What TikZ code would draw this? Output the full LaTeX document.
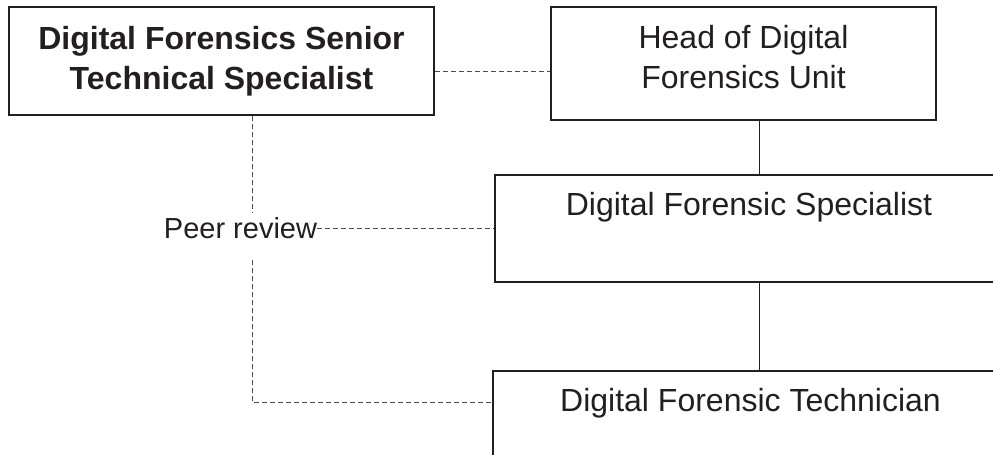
\documentclass[tikz,border=0pt]{standalone}
\usepackage{fontspec}
\setmainfont{Liberation Sans}
\definecolor{inkgray}{HTML}{231F20}
\definecolor{dashgray}{HTML}{4D4D4D}
\tikzset{
  unitbox/.style={draw=inkgray, line width=1.5pt, inner sep=0pt},
  dashline/.style={draw=dashgray, line width=1pt, dash pattern=on 5pt off 3pt},
  solidline/.style={draw=inkgray, line width=1pt},
}

\begin{document}
\begin{tikzpicture}[x=1pt,y=-1pt,font=\fontsize{32}{40}\selectfont,text=inkgray]
            \useasboundingbox (0,0) rectangle (993,455);
            \clip (0,0) rectangle (993,455);

            % Draw the boxes
            \node[unitbox, minimum width=425pt, minimum height=108pt, align=center, font=\bfseries\fontsize{32}{40}\selectfont] (senior) at (221.5,61) {Digital Forensics Senior\\Technical Specialist};
            \node[unitbox, minimum width=385pt, minimum height=113pt, label={[align=center,yshift=6pt]center:Head of Digital\\Forensics Unit}] (head) at (743.5,63.5) {};
            \node[unitbox, minimum width=508pt, minimum height=107pt, label={[yshift=21pt]center:Digital Forensic Specialist}] (spec) at (749,228.5) {};
            \node[unitbox, minimum width=515pt, minimum height=107pt, label={[yshift=21pt]center:Digital Forensic Technician}] (tech) at (750.5,424.5) {};

            % Peer review label
            \node[inner sep=0pt, font=\fontsize{29}{35}\selectfont] (peer) at (240.5,228) {Peer review};
            \coordinate (peertop) at (252,212);
            \coordinate (peerbot) at (252,260);
            \coordinate (corner) at (252,402);

            % Solid reporting lines
            \draw[solidline] ([xshift=16pt]head.south) -- ([xshift=16pt]head.south |- spec.north);
            \draw[solidline] ([xshift=10pt]spec.south) -- ([xshift=10pt]spec.south |- tech.north);

            % Dashed lines
            \draw[dashline] ([yshift=-10pt]senior.east) -- ([yshift=-7.5pt]head.west);
            \draw[dashline] (senior.south -| peertop) -- (peertop);
            \draw[dashline] (peer.east) -- (peer.east -| spec.west);
            \draw[dashline] (peerbot) -- (corner) -- (corner -| tech.west);
        \end{tikzpicture}
\end{document}
